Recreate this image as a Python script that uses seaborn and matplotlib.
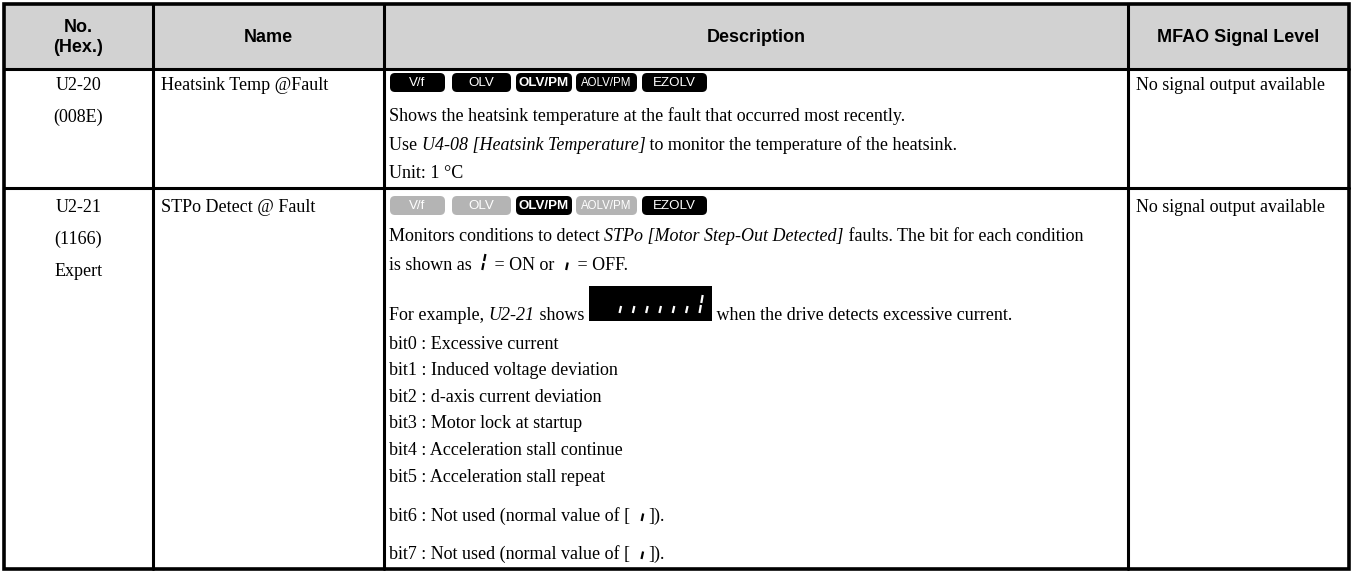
import matplotlib
matplotlib.use("Agg")
import matplotlib.pyplot as plt
from matplotlib.patches import FancyBboxPatch, Rectangle
import seaborn as sns

# ── Table content ─────────────────────────────────────────────────
HEADERS = ["No.\n(Hex.)", "Name", "Description", "MFAO Signal Level"]
PARAM_NO = [["U2-20", "(008E)"], ["U2-21", "(1166)", "Expert"]]
PARAM_NAME = ["Heatsink Temp @Fault", "STPo Detect @ Fault"]
MODES = ["V/f", "OLV", "OLV/PM", "AOLV/PM", "EZOLV"]
MODE_ACTIVE = [[1, 1, 1, 1, 1], [0, 0, 1, 0, 1]]
SIGNAL = ["No signal output available", "No signal output available"]

DESC_1 = [
    [("t", "Shows the heatsink temperature at the fault that occurred most recently.")],
    [("t", "Use "), ("i", "U4-08 [Heatsink Temperature]"),
     ("t", " to monitor the temperature of the heatsink.")],
    [("t", "Unit: 1 °C")],
]
DESC_2 = [
    [("t", "Monitors conditions to detect "), ("i", "STPo [Motor Step-Out Detected]"),
     ("t", " faults. The bit for each condition")],
    [("t", "is shown as "), ("on",), ("t", " = ON or "), ("off",), ("t", " = OFF.")],
    [("t", "For example, "), ("i", "U2-21"), ("t", " shows "), ("box",),
     ("t", " when the drive detects excessive current.")],
]
BITS = ["Excessive current", "Induced voltage deviation", "d-axis current deviation",
        "Motor lock at startup", "Acceleration stall continue",
        "Acceleration stall repeat", "Not used (normal value of [", "Not used (normal value of ["]

# ── Layout (pixels) ───────────────────────────────────────────────
W, H = 1351, 571
COL_X = [4, 153, 384, 1128, 1349]
ROW_Y = [4, 69, 188, 569]
BADGE_X = [(390, 445), (452, 511), (516, 572), (576, 637), (642, 707)]
SERIF = "Liberation Serif"
SANS = "Liberation Sans"
FS = 13
GREY = "#b4b4b4"

sns.set_theme(style="white")
plt.rcParams["font.family"] = [SERIF, "DejaVu Serif"]
plt.rcParams["text.color"] = "black"

fig = plt.figure(figsize=(W / 100, H / 100), dpi=100)
ax = fig.add_axes([0, 0, 1, 1])
ax.set_xlim(0, W)
ax.set_ylim(H, 0)
ax.axis("off")
renderer = fig.canvas.get_renderer()


def text_w(s, **kw):
    t = ax.text(0, 0, s + "x", fontsize=FS, **kw)
    w1 = t.get_window_extent(renderer).width
    t.remove()
    t = ax.text(0, 0, "x", fontsize=FS, **kw)
    w2 = t.get_window_extent(renderer).width
    t.remove()
    return w1 - w2


def seg_off(x, base, color="black", h=7.5):
    ax.plot([x, x + 1.6], [base, base - h], color=color, lw=1.6, solid_capstyle="butt")


def seg_on(x, base, color="black", h=16):
    ax.plot([x, x + 1.4], [base, base - h / 2 + 1], color=color, lw=1.6, solid_capstyle="butt")
    ax.plot([x + 1.8, x + 3.2], [base - h / 2 - 1, base - h], color=color, lw=1.6,
            solid_capstyle="butt")


def inline(x, base, parts):
    for p in parts:
        kind = p[0]
        if kind in ("t", "i"):
            style = "italic" if kind == "i" else "normal"
            ax.text(x, base, p[1], fontsize=FS, fontstyle=style, va="baseline", ha="left")
            x += text_w(p[1], fontstyle=style)
        elif kind == "off":
            seg_off(x + 7, base)
            x += 14
        elif kind == "on":
            seg_on(x + 6, base)
            x += 14
        elif kind == "box":
            bw = 123
            ax.add_patch(Rectangle((x, base - 34), bw, 35, color="black", lw=0))
            for k in range(6):
                seg_off(x + 31 + k * 13.3, base - 7, color="white", h=7)
            seg_on(x + 111, base - 7, color="white", h=18)
            x += bw


def badges(y0, active):
    for (xa, xb), name, on in zip(BADGE_X, MODES, active):
        ax.add_patch(FancyBboxPatch((xa, y0), xb - xa, 19,
                                    boxstyle="round,pad=0,rounding_size=5",
                                    fc="black" if on else GREY, ec="none"))
        bold = name == "OLV/PM"
        fs = 8.3 if name == "AOLV/PM" else 9.6
        ax.text((xa + xb) / 2, y0 + 10, name, color="white", fontsize=fs,
                family=SANS, fontweight="bold" if bold else "normal",
                ha="center", va="center")


# header background and lines
ax.add_patch(Rectangle((COL_X[0], ROW_Y[0]), COL_X[-1] - COL_X[0], ROW_Y[1] - ROW_Y[0],
                       color="#d2d2d2", lw=0))
for y in ROW_Y[1:-1]:
    ax.plot([COL_X[0], COL_X[-1]], [y, y], color="black", lw=2.2)
for x in COL_X[1:-1]:
    ax.plot([x, x], [ROW_Y[0], ROW_Y[-1]], color="black", lw=2.2)
ax.add_patch(Rectangle((COL_X[0], ROW_Y[0]), COL_X[-1] - COL_X[0], ROW_Y[-1] - ROW_Y[0],
                       fill=False, ec="black", lw=2.6))

# header text, one line at a time
for i, h in enumerate(HEADERS):
    lines = h.split("\n")
    mid = (ROW_Y[0] + ROW_Y[1]) / 2 + 1
    for k, line in enumerate(lines):
        yy = mid + (k - (len(lines) - 1) / 2) * 21
        ax.text((COL_X[i] + COL_X[i + 1]) / 2, yy, line,
                family=SANS, fontweight="bold", fontsize=13, ha="center", va="center")

# body rows
first_base = [90, 212]
for r in range(2):
    b = first_base[r]
    for k, line in enumerate(PARAM_NO[r]):
        ax.text((COL_X[0] + COL_X[1]) / 2, b + k * 32, line, fontsize=FS,
                ha="center", va="baseline")
    ax.text(COL_X[1] + 8, b, PARAM_NAME[r], fontsize=FS, ha="left", va="baseline")
    ax.text(COL_X[3] + 8, b, SIGNAL[r], fontsize=FS, ha="left", va="baseline")

badges(73, MODE_ACTIVE[0])
for k, line in enumerate(DESC_1):
    inline(389, 121 + k * 28.5, line)

badges(196, MODE_ACTIVE[1])
for line, b in zip(DESC_2, [241, 270, 320]):
    inline(389, b, line)

bit_base = [349, 375, 402, 428, 455, 482, 521, 559]
for k, (txt, b) in enumerate(zip(BITS, bit_base)):
    if k < 6:
        inline(389, b, [("t", f"bit{k} : {txt}")])
    else:
        inline(389, b, [("t", f"bit{k} : {txt} "), ("off",), ("t", "]).")])

fig.savefig("out.png", dpi=100)
